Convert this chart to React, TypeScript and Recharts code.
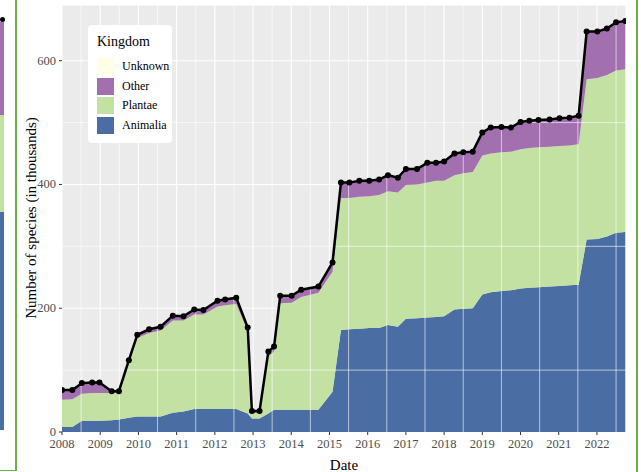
import React from 'react';
import { ComposedChart, Area, Line, XAxis, YAxis, CartesianGrid, ReferenceLine } from 'recharts';

// decimal year of each release
const dates = [
  2008.0, 2008.27, 2008.52, 2008.79, 2008.98, 2009.3, 2009.49, 2009.75, 2009.97, 2010.28,
  2010.58, 2010.9, 2011.18, 2011.46, 2011.7, 2012.07, 2012.27, 2012.56, 2012.86, 2012.97,
  2013.17, 2013.4, 2013.55, 2013.71, 2014.01, 2014.26, 2014.71, 2015.08, 2015.3, 2015.52,
  2015.78, 2016.04, 2016.3, 2016.53, 2016.79, 2017.0, 2017.29, 2017.56, 2017.79, 2018.0,
  2018.27, 2018.5, 2018.75, 2019.0, 2019.22, 2019.5, 2019.75, 2020.0, 2020.23, 2020.47,
  2020.76, 2021.02, 2021.28, 2021.52, 2021.73, 2022.01, 2022.26, 2022.5, 2022.74,
];
const animalia = [
  8, 8, 18, 18, 18, 19, 20, 23, 25, 25,
  25, 31, 33, 37, 37, 37, 37, 37, 30, 22,
  22, 30, 36, 36, 36, 36, 36, 65, 165, 166,
  167, 168, 168, 173, 170, 183, 184, 185, 186, 187,
  198, 199, 200, 222, 226, 228, 229, 232, 233, 234,
  235, 236, 237, 238, 311, 312, 316, 322, 323,
];
const plantae = [
  44, 45, 44, 45, 45, 44, 44, 88, 127, 135,
  139, 149, 147, 153, 153, 166, 168, 170, 133, 9,
  9, 92, 94, 172, 173, 182, 189, 194, 213, 212,
  213, 213, 215, 216, 217, 216, 216, 218, 220, 219,
  217, 219, 220, 225, 224, 224, 224, 225, 226, 226,
  226, 226, 226, 227, 259, 260, 261, 262, 263,
];
const other = [
  16, 15, 17, 17, 17, 3, 2, 5, 5, 6,
  6, 8, 7, 8, 7, 9, 9, 10, 6, 3,
  3, 8, 8, 12, 11, 12, 10, 15, 25, 25,
  26, 25, 25, 26, 24, 26, 25, 32, 29, 31,
  35, 34, 33, 37, 42, 41, 39, 44, 44, 44,
  44, 45, 45, 46, 77, 75, 75, 78, 78,
];
const unknown = dates.map(() => 0);

const yearTicks = [2008, 2009, 2010, 2011, 2012, 2013, 2014, 2015, 2016, 2017, 2018, 2019, 2020, 2021, 2022];
const halfYears = [2008.5, 2009.5, 2010.5, 2011.5, 2012.5, 2013.5, 2014.5, 2015.5, 2016.5, 2017.5, 2018.5, 2019.5, 2020.5, 2021.5, 2022.5];
const yTicks = [0, 200, 400, 600];
const yMinor = [100, 300, 500];

const kingdoms = [
  { key: 'Unknown', color: '#FFFFE5' },
  { key: 'Other', color: '#A26FAF' },
  { key: 'Plantae', color: '#C4E1A4' },
  { key: 'Animalia', color: '#4A6EA3' },
];

const data = dates.map((d, i) => ({
  date: d,
  Animalia: animalia[i],
  Plantae: plantae[i],
  Other: other[i],
  Unknown: unknown[i],
  total: animalia[i] + plantae[i] + other[i] + unknown[i],
}));

const font = '"Liberation Serif", "DejaVu Serif", serif';

const XTick = (props: any) => {
  const { x, y, payload } = props;
  return (
    <text x={x} y={y + 11} textAnchor="middle" fill="#4D4D4D" fontSize={12.5} fontFamily={font}>
      {payload.value}
    </text>
  );
};

const YTick = (props: any) => {
  const { x, y, payload } = props;
  return (
    <text x={x - 1} y={y + 4} textAnchor="end" fill="#4D4D4D" fontSize={12.5} fontFamily={font}>
      {payload.value}
    </text>
  );
};

const KingdomLegend = () => (
  <div
    style={{
      position: 'absolute',
      left: 88,
      top: 25,
      width: 84,
      height: 118,
      boxSizing: 'border-box',
      background: '#fff',
      borderRadius: 4,
      padding: '9px 0 0 9px',
      fontFamily: font,
    }}
  >
    <div style={{ fontSize: 14, color: '#000', lineHeight: '16px', marginBottom: 7 }}>Kingdom</div>
    {kingdoms.map((k) => (
      <div key={k.key} style={{ display: 'flex', alignItems: 'center', height: 19.5 }}>
        <div style={{ width: 17, height: 17, background: k.color }} />
        <span style={{ fontSize: 12, marginLeft: 8, color: '#000' }}>{k.key}</span>
      </div>
    ))}
  </div>
);

export default function App() {
  return (
    <div style={{ position: 'absolute', left: 0, top: 0, width: 641, height: 472, background: '#fff', overflow: 'hidden', fontFamily: font }}>
      {/* sliver of the neighbouring panel on the left */}
      <div style={{ position: 'absolute', left: 0, top: 22, width: 4, height: 93, background: '#A26FAF' }} />
      <div style={{ position: 'absolute', left: 0, top: 115, width: 4, height: 97, background: '#C4E1A4' }} />
      <div style={{ position: 'absolute', left: 0, top: 212, width: 4, height: 218, background: '#4A6EA3' }} />
      <div style={{ position: 'absolute', left: 0, top: 17, width: 5, height: 5, borderRadius: 3, background: '#000' }} />
      <div style={{ position: 'absolute', left: 15, top: 0, width: 1.5, height: 471, background: '#6BB04B' }} />
      <div style={{ position: 'absolute', left: 0, top: 469.5, width: 16, height: 1.5, background: '#6BB04B' }} />
      <div style={{ position: 'absolute', left: 636, top: 0, width: 1.5, height: 472, background: '#6BB04B' }} />

      <div style={{ position: 'absolute', left: 0, top: 0 }}>
        <ComposedChart width={641} height={472} data={data} margin={{ top: 5, right: 15, bottom: 0, left: 0 }} style={{ fontFamily: font }}>
          <CartesianGrid fill="#EBEBEB" stroke="#FFFFFF" strokeWidth={1.1} />
          {halfYears.map((x) => (
            <ReferenceLine key={`vx${x}`} x={x} stroke="#FFFFFF" strokeWidth={0.6} />
          ))}
          {yMinor.map((y) => (
            <ReferenceLine key={`hy${y}`} y={y} stroke="#FFFFFF" strokeWidth={0.6} />
          ))}
          <XAxis
            dataKey="date"
            type="number"
            domain={[2008, 2022.76]}
            ticks={yearTicks}
            allowDataOverflow
            axisLine={false}
            tickLine={{ stroke: '#333333' }}
            tickSize={3}
            tick={<XTick />}
            height={40}
            label={{ value: 'Date', position: 'insideBottom', offset: 2, style: { fill: '#000', fontSize: 15, fontFamily: font } }}
          />
          <YAxis
            type="number"
            domain={[0, 690]}
            ticks={yTicks}
            allowDataOverflow
            axisLine={false}
            tickLine={{ stroke: '#333333' }}
            tickSize={3}
            tick={<YTick />}
            width={62}
          />
          <Area type="linear" dataKey="Animalia" stackId="k" fill="#4A6EA3" fillOpacity={1} stroke="none" isAnimationActive={false} />
          <Area type="linear" dataKey="Plantae" stackId="k" fill="#C4E1A4" fillOpacity={1} stroke="none" isAnimationActive={false} />
          <Area type="linear" dataKey="Other" stackId="k" fill="#A26FAF" fillOpacity={1} stroke="none" isAnimationActive={false} />
          <Area type="linear" dataKey="Unknown" stackId="k" fill="#FFFFE5" fillOpacity={1} stroke="none" isAnimationActive={false} />
          <Line
            type="linear"
            dataKey="total"
            stroke="#000"
            strokeWidth={2.5}
            dot={{ r: 3, fill: '#000', stroke: '#000', strokeWidth: 0 }}
            activeDot={false}
            isAnimationActive={false}
          />
        </ComposedChart>
      </div>

      <KingdomLegend />

      <div
        style={{
          position: 'absolute',
          left: 31,
          top: 218,
          transform: 'translate(-50%, -50%) rotate(-90deg)',
          whiteSpace: 'nowrap',
          fontFamily: font,
          fontSize: 15,
          color: '#000',
        }}
      >
        Number of species (in thousands)
      </div>
    </div>
  );
}
